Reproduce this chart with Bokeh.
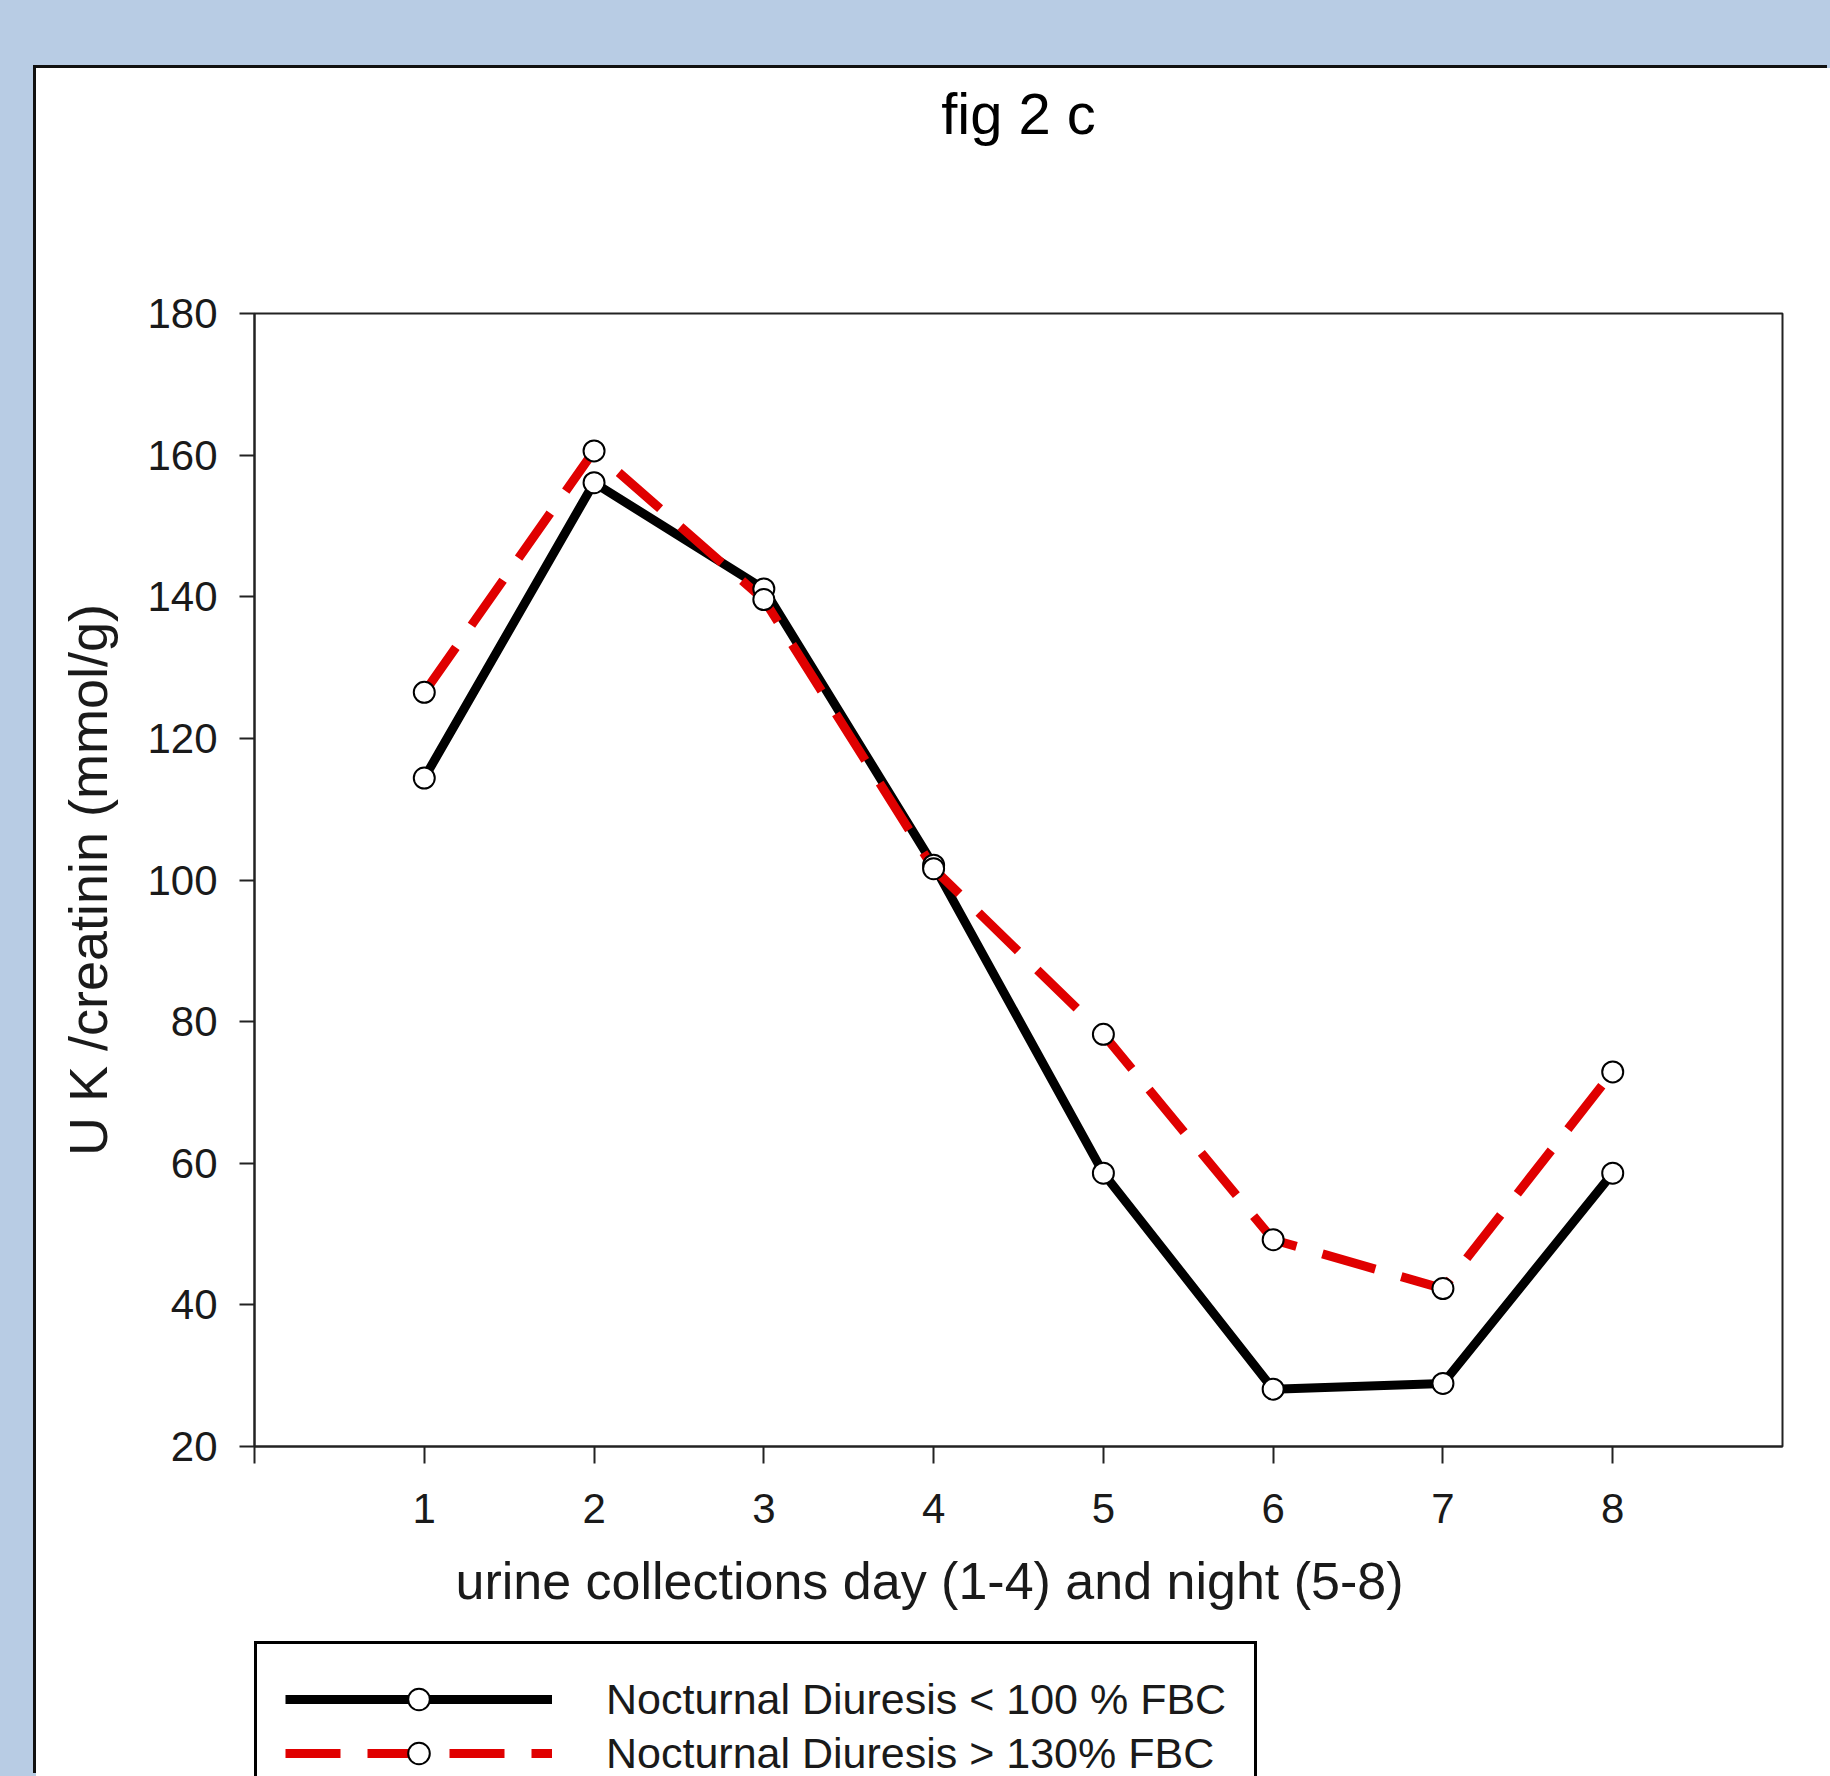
from bokeh.plotting import figure
from bokeh.models import ColumnDataSource, Label, Legend, LegendItem, FixedTicker, Range1d
from bokeh.layouts import column
from bokeh.embed import file_html
from bokeh.resources import INLINE

# urine K / creatinine per collection (day 1-4, night 5-8)
collections = [1, 2, 3, 4, 5, 6, 7, 8]
uk_nd_below_100 = [114.4, 156.1, 141.1, 102.1, 58.6, 28.1, 28.9, 58.6]
uk_nd_above_130 = [126.5, 160.6, 139.6, 101.6, 78.2, 49.2, 42.3, 72.9]
series_labels = ["Nocturnal Diuresis < 100 % FBC", "Nocturnal Diuresis > 130% FBC"]
x_ticks = [0, 1, 2, 3, 4, 5, 6, 7, 8]
y_ticks = [20, 40, 60, 80, 100, 120, 140, 160, 180]

FONT = "Liberation Sans"
INK = "#1a1a1a"
PAGE_BLUE = "#B8CCE4"
PANEL_W = 1794

LOW_STYLE = dict(line_color="black", line_width=9)
HIGH_STYLE = dict(line_color="#E00000", line_width=9, line_dash="55 27")
PT_STYLE = dict(size=21, marker="circle", fill_color="white",
                line_color="black", line_width=2)

src = ColumnDataSource(dict(x=collections, low=uk_nd_below_100, high=uk_nd_above_130))


def blank_figure(height, y_range=(0, 1)):
    f = figure(width=PANEL_W, height=height, x_range=Range1d(0, 9),
               y_range=Range1d(*y_range), x_axis_type=None, y_axis_type=None,
               output_backend="svg", toolbar_location=None,
               min_border_left=0, min_border_right=0,
               min_border_top=0, min_border_bottom=0,
               background_fill_color=None, border_fill_color="white")
    f.grid.visible = False
    f.outline_line_color = None
    return f


# ---- header strip with the chart title (frame is aligned with the plot below)
HEAD_H = 180
head = blank_figure(HEAD_H)
head.add_layout(Label(x=764, y=135, x_units="screen", y_units="screen",
                      text="fig 2 c", text_align="center",
                      text_baseline="middle", text_font=FONT,
                      text_font_size="58px", text_color="black"))

# ---- main plot
PLOT_H = 1297
p = figure(
    width=PANEL_W, height=PLOT_H,
    x_range=Range1d(0, 9), y_range=Range1d(20, 180),
    output_backend="svg", toolbar_location=None,
    min_border_left=218, min_border_right=48,
    min_border_top=65, min_border_bottom=99,
    background_fill_color="white", border_fill_color="white",
)
p.grid.visible = False
p.outline_line_color = "#222222"
p.outline_line_width = 2

for ax in (p.xaxis[0], p.yaxis[0]):
    ax.axis_line_width = 2
    ax.axis_line_color = "#222222"
    ax.major_tick_line_width = 2
    ax.major_tick_line_color = "#222222"
    ax.major_tick_in = 0
    ax.minor_tick_line_color = None
    ax.major_label_text_font = FONT
    ax.major_label_text_font_size = "42px"
    ax.major_label_text_color = INK
    ax.axis_label_text_font = FONT
    ax.axis_label_text_font_style = "normal"
    ax.axis_label_text_color = INK

p.xaxis.ticker = FixedTicker(ticks=x_ticks)
p.xaxis.major_label_overrides = {0: ""}
p.xaxis.major_tick_out = 17
p.xaxis.major_label_standoff = 30

p.yaxis.ticker = FixedTicker(ticks=y_ticks)
p.yaxis.major_tick_out = 15
p.yaxis.major_label_standoff = 22
p.yaxis.axis_label = "U K /creatinin (mmol/g)"
p.yaxis.axis_label_text_font_size = "54px"
p.yaxis.axis_label_standoff = 26

p.line("x", "low", source=src, **LOW_STYLE)
p.line("x", "high", source=src, **HIGH_STYLE)
p.scatter("x", "low", source=src, **PT_STYLE)
p.scatter("x", "high", source=src, **PT_STYLE)

# ---- footer: x axis caption and legend box
FOOT_H = 231
foot = blank_figure(FOOT_H, y_range=(500, 600))
foot.add_layout(Label(x=675, y=196, x_units="screen", y_units="screen",
                      text="urine collections day (1-4) and night (5-8)",
                      text_align="center", text_baseline="middle",
                      text_font=FONT, text_font_size="52px", text_color=INK))

# legend keys reuse the series styles; their data lies outside this strip's range
key_low_line = foot.line("x", "low", source=src, **LOW_STYLE)
key_high_line = foot.line("x", "high", source=src, **HIGH_STYLE)
key_low_pt = foot.scatter("x", "low", source=src, **PT_STYLE)
key_high_pt = foot.scatter("x", "high", source=src, **PT_STYLE)

legend = Legend(
    items=[LegendItem(label=series_labels[0], renderers=[key_low_line, key_low_pt]),
           LegendItem(label=series_labels[1], renderers=[key_high_line, key_high_pt])],
    location=(0, -35),
    glyph_width=267, glyph_height=54, label_height=54, label_standoff=54,
    spacing=0, padding=28, margin=0,
    label_text_font=FONT, label_text_font_size="43px", label_text_color=INK,
    border_line_color="black", border_line_width=3, border_line_alpha=1.0,
    background_fill_color="white", background_fill_alpha=1.0,
)
foot.add_layout(legend)

sheet = column(head, p, foot, spacing=0,
               styles={"background-color": "white",
                       "box-shadow": "-3px -3px 0 0 #111111"})
page = column(sheet, styles={"background-color": PAGE_BLUE,
                             "padding-left": "36px", "padding-top": "68px"})

open("out.html", "w").write(file_html(page, INLINE))
